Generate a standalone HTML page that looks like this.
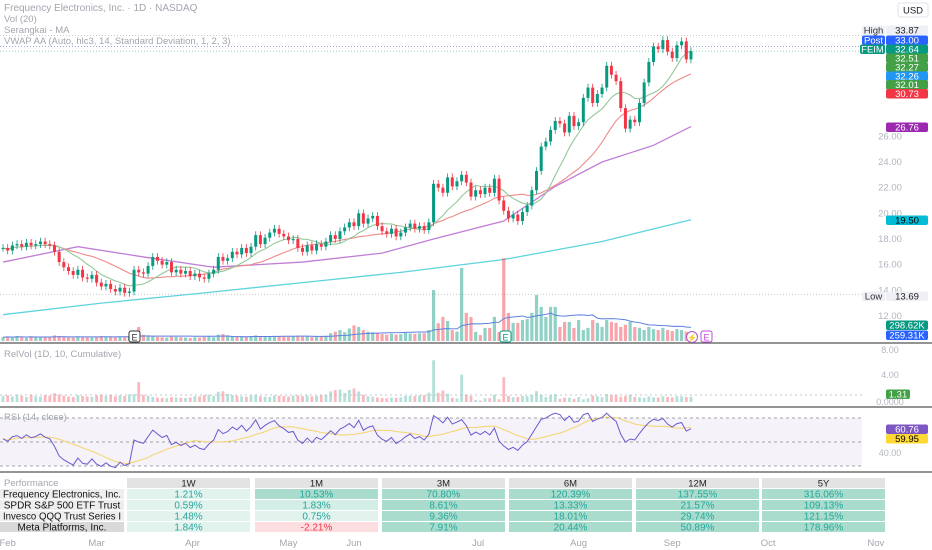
<!DOCTYPE html>
<html><head><meta charset="utf-8"><style>
html,body{margin:0;padding:0;background:#fff;width:932px;height:550px;overflow:hidden;font-family:"Liberation Sans",sans-serif;}
svg{display:block}
</style></head><body>
<svg id="chart" width="932" height="550" viewBox="0 0 932 550" xmlns="http://www.w3.org/2000/svg" font-family="Liberation Sans, sans-serif">
<g id="grid"></g>
<g id="marks"></g>
<g id="overlay"></g>
</svg>
<script>
const closes=[17.3,17.1,17.5,17.6,17.4,17.7,17.5,17.6,17.8,17.6,
17.5,17.0,16.2,15.8,15.5,15.2,15.6,15.0,14.9,15.2,
14.6,14.3,14.5,14.1,13.9,14.2,13.8,13.9,15.6,15.4,
15.3,15.9,16.6,16.3,16.0,16.2,15.4,15.6,15.3,15.5,
15.1,15.3,15.0,14.9,15.3,15.6,16.6,16.3,16.5,17.0,
16.8,17.3,16.9,17.4,18.3,17.6,18.1,18.5,18.8,18.4,
18.2,17.9,18.0,17.3,17.0,17.5,17.1,17.6,17.4,17.8,
18.3,18.0,18.6,18.9,19.3,19.0,20.0,19.2,19.6,19.8,
19.0,18.6,18.4,18.8,18.2,18.5,18.9,19.2,18.8,19.0,
18.7,19.3,22.3,22.0,21.6,22.8,22.1,22.5,23.0,22.4,
21.3,21.8,21.5,22.0,21.6,22.7,21.0,20.2,19.6,19.9,
19.4,20.1,20.6,21.8,23.3,25.2,25.6,26.5,27.2,27.0,
26.3,27.6,26.8,27.1,29.0,29.8,28.6,29.3,29.8,31.5,
30.8,30.3,28.2,26.6,27.3,27.1,28.6,30.2,31.8,33.0,
32.8,33.5,32.6,32.1,33.1,33.4,32.0,32.64];
const volumes=[120,140,110,160,130,100,150,120,110,140,
130,180,160,140,120,110,150,130,120,110,
140,160,130,150,120,140,130,160,170,450,
200,180,150,130,120,110,140,130,120,110,
100,120,110,130,140,120,200,220,180,160,
150,140,130,160,180,150,140,130,160,150,
140,130,150,160,140,150,130,140,160,170,
250,300,350,280,400,500,450,350,300,280,
250,220,200,230,210,220,260,240,230,250,
250,350,1630,570,770,640,350,300,2340,900,
770,290,190,420,420,770,290,2650,900,580,
580,670,700,900,1470,1090,770,1090,1090,450,
610,610,420,670,350,420,670,580,450,670,
610,580,450,520,610,450,420,350,450,380,
350,420,350,320,380,350,300,300];
const ma50Idx=[0,16,30,45,64,81,92,107,118,128,139,147];
const ma50Val=[16.2,17.4,16.6,15.8,16.2,16.9,18.0,19.4,22.1,24.0,25.3,26.76];
const ma200Idx=[0,21,43,64,85,107,128,147];
const ma200Val=[12.1,13.0,13.8,14.6,15.4,16.4,17.8,19.5];
const priceTicks=[26,24,22,20,18,16,14,12];
const monthLabels=["Feb","Mar","Apr","May","Jun","Jul","Aug","Sep","Oct","Nov"];
const monthIdx=[1,20,40.5,61,75,101.5,123,143,163.5,186.5];
const perfCols=["1W","1M","3M","6M","12M","5Y"];
const perfRows=["Frequency Electronics, Inc.","SPDR S&P 500 ETF Trust","Invesco QQQ Trust Series I","Meta Platforms, Inc."];
const perfVals=[[1.21,10.53,70.80,120.39,137.55,316.06],[0.59,1.83,8.61,13.33,21.57,109.13],[1.48,0.75,9.36,18.01,29.74,121.15],[1.84,-2.21,7.91,20.44,50.89,178.96]];

const NS="http://www.w3.org/2000/svg";
const X=i=>3+i*4.68;
const Y=p=>162-(p-24)*12.83;
const VY=v=>341-v/32;
const RY=r=>402-r*6.25;
const SY=v=>442-(v-50)*1.2;
function mk(parent,tag,attrs,text){const e=document.createElementNS(NS,tag);for(const k in attrs)e.setAttribute(k,attrs[k]);if(text!==undefined)e.textContent=text;document.getElementById(parent).appendChild(e);return e;}

let e;
e=mk('grid','rect',{x:0,y:0,width:932,height:550,fill:'#fff'});

[343,407,472].forEach(y=>{e=mk('grid','line',{x1:0,x2:932,y1:y,y2:y,stroke:'#555','stroke-width':1.2});
});
priceTicks.forEach(p=>{e=mk('grid','text',{x:890,y:Y(p)+3,'font-size':9.5,fill:'#b2b5be','text-anchor':'middle'},p.toFixed(2));
});
[[Y(33.87),'#b2b5be'],[Y(33.0),'#7b8bd8'],[Y(32.64),'#6fbfa8'],[Y(13.69),'#b2b5be']].forEach(([y,c])=>{
e=mk('grid','line',{x1:0,x2:862,y1:y,y2:y,stroke:c,'stroke-width':0.8,'stroke-dasharray':'1,2'});
});

function sma(arr,n){return arr.map((v,i)=>{const s=arr.slice(Math.max(0,i-n+1),i+1);return s.reduce((a,b)=>a+b,0)/s.length;});}
function poly(pts,color,name,w){const l=mk('marks','polyline',{points:pts.join(' '),fill:'none',stroke:color,'stroke-width':w||1.1});
}
poly(ma200Idx.map((k,j)=>X(k)+','+Y(ma200Val[j])),'#5fd4dd','ma-200-line',1.3);
poly(ma50Idx.map((k,j)=>X(k)+','+Y(ma50Val[j])),'#c17ed6','ma-50-line',1.3);
poly(sma(closes,20).map((v,i)=>X(i)+','+Y(v)),'#ef8a8a','ma-20-line');
poly(sma(closes,10).map((v,i)=>X(i)+','+Y(v)),'#94c79a','ma-10-line');

const vavg=sma(volumes,20);
closes.forEach((c,i)=>{
  const o=i>0?closes[i-1]:c;const up=c>=o;
  const col=up?'#089981':'#f23645';
  const v=mk('marks','rect',{x:X(i)-1.6,y:VY(volumes[i]),width:3.2,height:341-VY(volumes[i]),fill:up?'rgba(8,153,129,0.45)':'rgba(242,54,69,0.45)'});
  
  const hi=Math.max(o,c)+0.3,lo=Math.min(o,c)-0.3;
  const w=mk('marks','line',{x1:X(i),x2:X(i),y1:Y(hi),y2:Y(lo),stroke:col,'stroke-width':0.8});
  
  const b=mk('marks','rect',{x:X(i)-1.5,y:Y(Math.max(o,c)),width:3,height:Math.max(1,Math.abs(Y(o)-Y(c))),fill:col});
  
  const base=i>=10?volumes.slice(i-10,i).reduce((a,b)=>a+b,0)/10:vavg[i];
  const r=Math.min(8.3,volumes[i]/base);
  const rb=mk('marks','rect',{x:X(i)-1.4,y:RY(r),width:2.8,height:402-RY(r),fill:up?'rgba(8,153,129,0.3)':'rgba(242,54,69,0.35)'});
  
});
poly(vavg.map((v,i)=>X(i)+','+VY(v)),'#5b7fe0','volume-average-line',1);
e=mk('marks','line',{x1:0,x2:862,y1:395,y2:395,stroke:'#b2b5be','stroke-dasharray':'2,3','stroke-width':0.8});


e=mk('grid','rect',{x:0,y:SY(70),width:862,height:SY(30)-SY(70),fill:'rgba(126,87,194,0.08)'});

[70,50,30].forEach(l=>{e=mk('grid','line',{x1:0,x2:862,y1:SY(l),y2:SY(l),stroke:'#888','stroke-dasharray':'3,3','stroke-width':0.7});
});
const rsi=[];let ag=0.2,al=0.18;
closes.forEach((c,i)=>{if(i===0){rsi.push(100-100/(1+ag/al));return;}const d=c-closes[i-1];const g=Math.max(d,0),l=Math.max(-d,0);
 ag=(ag*13+g)/14;al=(al*13+l)/14;
 rsi.push(Math.max(28,Math.min(74,100-100/(1+ag/al))));});
poly(sma(rsi,14).map((v,i)=>X(i)+','+SY(v)),'#f5d36a','rsi-ma-line',1);
poly(rsi.map((v,i)=>X(i)+','+SY(v)),'#6a5acd','rsi-line',1);

function tag(y,txt,bg,fg,name,x,w){const r=mk('overlay','rect',{x:x||886,y:y-4.5,width:w||42,height:9.5,rx:2,fill:bg});

const t=mk('overlay','text',{x:(x||886)+(w||42)/2,y:y+3.5,'font-size':9.5,fill:fg,'text-anchor':'middle'},txt);
}
tag(30,'High','#eef0f5','#333','high-tag',862,23);tag(30,'33.87','#eef0f5','#222','high-value');
tag(40,'Post','#2962ff','#fff','post-tag',862,23);tag(40,'33.00','#2962ff','#fff','post-value');
tag(49,'FEIM','#089981','#fff','ticker-tag',860,25);tag(49,'32.64','#089981','#fff','last-price');
tag(58,'32.51','#43a047','#fff','ma-value-1');tag(67,'32.27','#43a047','#fff','ma-value-2');
tag(76,'32.26','#2196f3','#fff','vwap-value');tag(84.5,'32.01','#43a047','#fff','ma-value-3');
tag(93.5,'30.73','#f23645','#fff','ma-20-value');tag(127,'26.76','#9c27b0','#fff','ma-50-value');
tag(220,'19.50','#00bcd4','#000','ma-200-value');
tag(296,'Low','#eef0f5','#333','low-tag',862,23);tag(296,'13.69','#eef0f5','#222','low-value');
tag(325,'298.62K','#089981','#fff','volume-value');tag(335,'259.31K','#2962ff','#fff','volume-avg-value');
tag(394,'1.31','#43a047','#fff','relvol-value',886,24);
tag(429,'60.76','#7e57c2','#fff','rsi-value');tag(438.5,'59.95','#fdd835','#000','rsi-ma-value');
[['8.00',353],['4.00',378],['0.0000',405],['40.00',456]].forEach(([t,y])=>{e=mk('overlay','text',{x:890,y:y,'font-size':9,fill:'#b2b5be','text-anchor':'middle'},t);
});
e=mk('overlay','rect',{x:898,y:3,width:30,height:14,rx:2,fill:'#fff',stroke:'#e0e3eb'});

e=mk('overlay','text',{x:913,y:13.5,'font-size':9.5,fill:'#131722','text-anchor':'middle'},'USD');


[['Frequency Electronics, Inc. · 1D · NASDAQ',11,'chart-title'],['Vol (20)',22,'volume-legend'],['Serangkai - MA',33,'ma-legend'],['VWAP AA (Auto, hlc3, 14, Standard Deviation, 1, 2, 3)',44,'vwap-legend'],['RelVol (1D, 10, Cumulative)',357,'relvol-legend'],['RSI (14, close)',420,'rsi-legend'],['Performance',486,'performance-legend']].forEach(([t,y,n])=>{
e=mk('overlay','text',{x:4,y:y,'font-size':n==='chart-title'?10:9.5,fill:'#a3a6af'},t);});

function box(x,y,c,name){const r=mk('overlay','rect',{x:x-5,y:y-6,width:11,height:11,rx:2,fill:'#fff',stroke:c});

const t=mk('overlay','text',{x:x+0.5,y:y+3.5,'font-size':9,fill:c,'text-anchor':'middle'},'E');
}
box(134,337,'#333','earnings-marker-mar');box(505,337,'#089981','earnings-marker-jul');box(706,337,'#c04bd8','earnings-marker-sep');
e=mk('overlay','circle',{cx:692,cy:337,r:5.5,fill:'#fff',stroke:'#a855c8'});

e=mk('overlay','text',{x:692,y:340.5,'font-size':8,fill:'#a855c8','text-anchor':'middle'},'⚡');


const colX=[127,255,382,509,636,762],colW=123,rowY=[489,500,511,522];
function bg(v,j){if(v<0)return '#fcdde0';if(j===0||v<1)return '#e2f3ee';if(v<5)return '#d3eee6';return '#a9dccd';}
perfCols.forEach((c,j)=>{e=mk('overlay','rect',{x:colX[j],y:478,width:colW,height:10,fill:'#e3e3e3'});

e=mk('overlay','text',{x:colX[j]+colW/2,y:486.5,'font-size':9.5,fill:'#222','text-anchor':'middle'},c);
});
perfRows.forEach((r,i)=>{
 e=mk('overlay','rect',{x:0,y:rowY[i],width:124,height:10,fill:i===3?'#d9d9d9':'#eeeeee'});
 
 const attrs={x:62,y:rowY[i]+8.5,'font-size':10,fill:'#111','text-anchor':'middle'};
 if(r.length>22){attrs.textLength=118;attrs.lengthAdjust='spacingAndGlyphs';}
 e=mk('overlay','text',attrs,r);
 
 perfVals[i].forEach((v,j)=>{
  e=mk('overlay','rect',{x:colX[j],y:rowY[i],width:colW,height:10,fill:bg(v,j)});
  
  e=mk('overlay','text',{x:colX[j]+colW/2,y:rowY[i]+8.5,'font-size':10,fill:v<0?'#f23645':'#26a69a','text-anchor':'middle'},v.toFixed(2)+'%');
  
 });
});
monthLabels.forEach((m,k)=>{e=mk('overlay','text',{x:X(monthIdx[k]),y:546,'font-size':9.5,fill:'#a3a6af','text-anchor':'middle'},m);
});
</script>
</body></html>
